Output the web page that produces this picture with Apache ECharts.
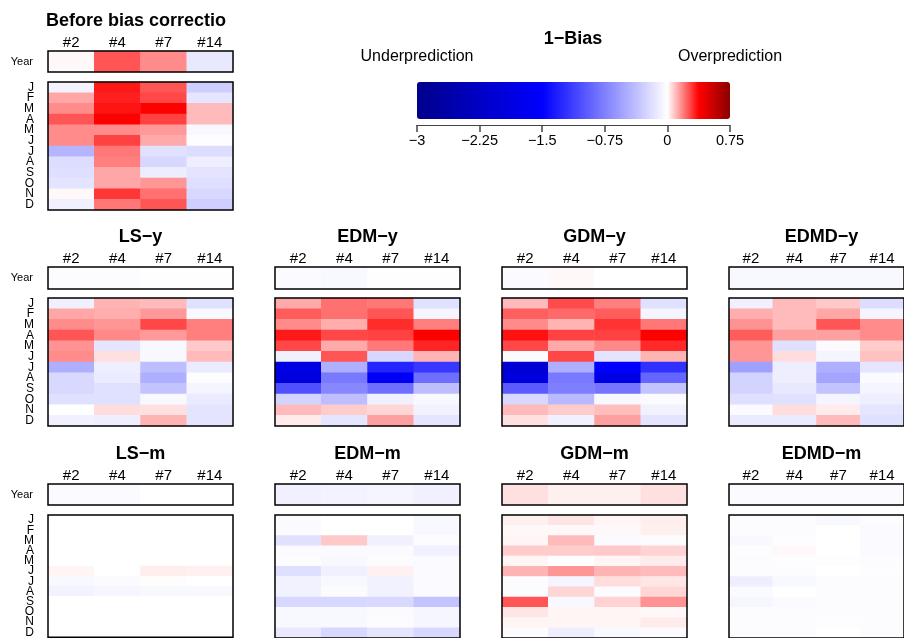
<!DOCTYPE html>
<html><head><meta charset="utf-8">
<script src="https://cdn.jsdelivr.net/npm/echarts@6/dist/echarts.min.js"></script>
<style>html,body{margin:0;padding:0;background:#fff}#c{width:904px;height:638px}</style>
</head><body><div id="c"></div>
<script>
// ---- tick labels / categories ----
const leadLabels = ['#2', '#4', '#7', '#14'];
const monthLabels = ['J', 'F', 'M', 'A', 'M', 'J', 'J', 'A', 'S', 'O', 'N', 'D'];
const yearLabel = ['Year'];
const colorMin = -3, colorMax = 0.75, colorStep = 0.75;

// ---- data: 1-Bias (rows = months J..D, cols = #2,#4,#7,#14) ----
const before_year = [0.01, 0.25, 0.17, -0.135];
const before_month = [
  [-0.07, 0.34, 0.25, -0.29],
  [0.13, 0.33, 0.27, -0.15],
  [0.17, 0.345, 0.38, 0.10],
  [0.25, 0.375, 0.28, 0.10],
  [0.17, 0.17, 0.15, -0.04],
  [0.17, 0.28, 0.125, -0.01],
  [-0.44, 0.20, -0.18, -0.20],
  [-0.20, 0.19, -0.235, -0.10],
  [-0.19, 0.13, -0.105, -0.16],
  [-0.16, 0.13, 0.155, -0.19],
  [0.01, 0.295, 0.21, -0.235],
  [-0.09, 0.20, 0.25, -0.29]
];
const lsy_year = [-0.02, -0.015, -0.005, -0.005];
const lsy_month = [
  [-0.09, 0.11, 0.10, -0.18],
  [0.13, 0.12, 0.15, -0.04],
  [0.17, 0.155, 0.27, 0.19],
  [0.25, 0.175, 0.15, 0.19],
  [0.16, -0.15, -0.04, 0.08],
  [0.17, 0.045, -0.04, 0.10],
  [-0.47, -0.10, -0.38, -0.12],
  [-0.22, -0.12, -0.47, -0.01],
  [-0.22, -0.18, -0.35, -0.06],
  [-0.18, -0.18, -0.04, -0.12],
  [0.0, 0.05, 0.045, -0.16],
  [-0.09, -0.10, 0.11, -0.16]
];
const edmy_year = [-0.03, -0.04, -0.005, -0.005];
const edmy_month = [
  [0.125, 0.21, 0.20, -0.18],
  [0.24, 0.21, 0.25, -0.06],
  [0.17, 0.12, 0.31, 0.19],
  [0.34, 0.27, 0.28, 0.375],
  [0.27, 0.125, 0.20, 0.32],
  [-0.09, 0.25, -0.235, 0.11],
  [-1.85, -0.47, -1.29, -1.18],
  [-1.91, -0.79, -1.62, -0.85],
  [-1.03, -0.71, -0.85, -0.38],
  [-0.26, -0.38, -0.09, -0.04],
  [0.10, 0.075, 0.06, -0.075],
  [0.03, -0.15, 0.14, -0.15]
];
const gdmy_year = [-0.03, 0.01, 0, 0];
const gdmy_month = [
  [0.10, 0.265, 0.19, -0.18],
  [0.235, 0.22, 0.24, -0.06],
  [0.17, 0.11, 0.30, 0.20],
  [0.35, 0.28, 0.28, 0.375],
  [0.27, 0.125, 0.175, 0.315],
  [-0.03, 0.27, -0.16, 0.11],
  [-2.03, -0.47, -1.5, -1.21],
  [-1.91, -0.79, -1.85, -0.91],
  [-0.97, -0.76, -0.82, -0.35],
  [-0.235, -0.41, -0.04, -0.03],
  [0.10, 0.075, 0.095, -0.075],
  [0.045, -0.09, 0.14, -0.16]
];
const edmdy_year = [-0.04, -0.04, -0.04, -0.04];
const edmdy_month = [
  [-0.09, 0.10, 0.08, -0.20],
  [0.12, 0.10, 0.13, -0.06],
  [0.16, 0.10, 0.25, 0.17],
  [0.24, 0.14, 0.14, 0.17],
  [0.155, -0.18, -0.03, 0.075],
  [0.155, 0.05, -0.06, 0.09],
  [-0.56, -0.10, -0.47, -0.15],
  [-0.26, -0.10, -0.53, -0.03],
  [-0.26, -0.135, -0.35, -0.06],
  [-0.19, -0.18, -0.06, -0.10],
  [-0.03, 0.05, 0.03, -0.15],
  [-0.12, -0.12, 0.10, -0.18]
];
const lsm_year = [-0.03, -0.03, 0, 0];
const lsm_month = [
  [0, 0, 0, 0],
  [0, 0, 0, 0],
  [0, 0, 0, 0],
  [0, 0, 0, 0],
  [0, 0, 0, 0],
  [0.015, 0, 0.025, 0.02],
  [-0.04, -0.03, 0.005, 0],
  [-0.07, -0.05, -0.04, -0.04],
  [0, 0, 0, 0],
  [0, 0, 0, 0],
  [0, 0, 0, 0],
  [0, 0, 0, 0]
];
const edmm_year = [-0.09, -0.07, -0.06, -0.09];
const edmm_month = [
  [-0.03, 0, 0, -0.04],
  [-0.03, 0, 0, -0.04],
  [-0.18, 0.08, -0.09, -0.02],
  [-0.03, -0.03, -0.03, -0.09],
  [-0.02, -0.04, -0.02, -0.03],
  [-0.19, -0.09, 0.02, -0.03],
  [-0.075, -0.04, -0.075, -0.03],
  [-0.075, -0.02, -0.075, -0.03],
  [-0.235, -0.235, -0.22, -0.35],
  [-0.04, -0.04, -0.03, -0.05],
  [-0.04, -0.04, -0.02, -0.05],
  [-0.135, -0.235, -0.15, -0.235]
];
const gdmm_year = [0.045, 0.022, 0.022, 0.045];
const gdmm_month = [
  [0.022, 0.04, 0.015, 0.025],
  [0.01, 0.01, 0.01, 0.022],
  [0.015, 0.10, -0.03, -0.02],
  [0.075, 0.075, 0.08, 0.065],
  [0.015, 0, 0.015, 0.03],
  [0.11, 0.155, 0.11, 0.10],
  [-0.02, -0.06, 0.05, 0.037],
  [-0.02, 0.06, -0.02, 0.06],
  [0.25, -0.04, 0.065, 0.16],
  [0.037, 0.015, 0.015, 0.01],
  [0.015, 0.015, 0.015, 0.03],
  [-0.02, -0.10, -0.04, -0.02]
];
const edmdm_year = [-0.03, -0.03, -0.03, -0.03];
const edmdm_month = [
  [-0.02, -0.02, -0.04, -0.02],
  [-0.02, -0.02, 0, -0.03],
  [-0.04, -0.01, 0, -0.03],
  [-0.01, 0.01, 0, -0.03],
  [-0.02, -0.01, -0.01, -0.02],
  [-0.02, -0.02, 0, -0.01],
  [-0.10, -0.04, -0.02, -0.02],
  [-0.03, 0, -0.02, -0.02],
  [-0.05, -0.03, -0.02, -0.02],
  [-0.02, -0.02, -0.02, -0.02],
  [-0.02, -0.02, -0.01, -0.02],
  [-0.02, -0.02, 0, -0.02]
];

// ---- layout ----
const FONT = 'Liberation Sans';
const panelW = 185;
const panels = [
  { title: 'Before bias correction', year: before_year, month: before_month, left: 48, yt: 51, yh: 21, mt: 82, mh: 128, labels: true, titleLeft: true },
  { title: 'LS\u2212y', year: lsy_year, month: lsy_month, left: 48, yt: 267, yh: 22, mt: 298, mh: 128, labels: true },
  { title: 'EDM\u2212y', year: edmy_year, month: edmy_month, left: 275, yt: 267, yh: 22, mt: 298, mh: 128, labels: false },
  { title: 'GDM\u2212y', year: gdmy_year, month: gdmy_month, left: 502, yt: 267, yh: 22, mt: 298, mh: 128, labels: false },
  { title: 'EDMD\u2212y', year: edmdy_year, month: edmdy_month, left: 729, yt: 267, yh: 22, mt: 298, mh: 128, labels: false },
  { title: 'LS\u2212m', year: lsm_year, month: lsm_month, left: 48, yt: 484, yh: 21, mt: 515, mh: 128, labels: true },
  { title: 'EDM\u2212m', year: edmm_year, month: edmm_month, left: 275, yt: 484, yh: 21, mt: 515, mh: 128, labels: false },
  { title: 'GDM\u2212m', year: gdmm_year, month: gdmm_month, left: 502, yt: 484, yh: 21, mt: 515, mh: 128, labels: false },
  { title: 'EDMD\u2212m', year: edmdm_year, month: edmdm_month, left: 729, yt: 484, yh: 21, mt: 515, mh: 128, labels: false }
];

const grids = [], xAxes = [], yAxes = [], series = [], graphics = [], heatIdx = [];
const off = { show: false };
function gridOf(left, top, h) {
  return { left: left, top: top, width: panelW, height: h, show: true, borderColor: '#000', borderWidth: 1.5, backgroundColor: 'transparent', z: 10, containLabel: false };
}
panels.forEach(p => {
  // year grid
  const gy = grids.length;
  grids.push(gridOf(p.left, p.yt, p.yh));
  xAxes.push({ type: 'category', gridIndex: gy, data: leadLabels, position: 'top', axisLine: off, axisTick: off, splitLine: off,
    axisLabel: { interval: 0, fontSize: 15, margin: 1, color: '#000', fontFamily: FONT } });
  yAxes.push({ type: 'category', gridIndex: gy, data: yearLabel, axisLine: off, axisTick: off, splitLine: off,
    axisLabel: { show: p.labels, fontSize: 11, margin: 15, color: '#000', fontFamily: FONT } });
  heatIdx.push(series.length);
  series.push({ type: 'heatmap', xAxisIndex: gy, yAxisIndex: gy, progressive: 0, silent: true,
    itemStyle: { borderWidth: 0 }, emphasis: { disabled: true },
    data: p.year.map((v, i) => [i, 0, v]) });
  // month grid
  const gm = grids.length;
  grids.push(gridOf(p.left, p.mt, p.mh));
  xAxes.push({ type: 'category', gridIndex: gm, data: leadLabels, show: false });
  yAxes.push({ type: 'category', gridIndex: gm, data: monthLabels.map((m, i) => String(i)), inverse: true,
    axisLine: off, axisTick: off, splitLine: off,
    axisLabel: { show: p.labels, interval: 0, fontSize: 12, lineHeight: 11, margin: 14, color: '#000',
      fontFamily: 'Liberation Sans Narrow, Liberation Sans',
      formatter: v => monthLabels[+v] } });
  const md = [];
  p.month.forEach((row, r) => row.forEach((v, c) => md.push([c, r, v])));
  heatIdx.push(series.length);
  series.push({ type: 'heatmap', xAxisIndex: gm, yAxisIndex: gm, progressive: 0, silent: true,
    itemStyle: { borderWidth: 0 }, emphasis: { disabled: true }, data: md });
  // title
  const tx = p.titleLeft ? p.left - 2 : p.left + panelW / 2;
  const st = { text: p.title, font: 'bold 18px ' + FONT, fill: '#000',
    align: p.titleLeft ? 'left' : 'center', textAlign: p.titleLeft ? 'left' : 'center',
    verticalAlign: 'middle', textVerticalAlign: 'middle' };
  if (p.titleLeft) { st.width = 187; st.overflow = 'truncate'; st.ellipsis = ''; }
  graphics.push({ type: 'text', x: tx, y: p.yt - 30, style: st, z: 20 });
});

// colour-bar axis
const cbLeft = 417, cbWidth = 313;
const gc = grids.length;
grids.push({ left: cbLeft, top: 115, width: cbWidth, height: 10, show: false });
xAxes.push({ type: 'value', gridIndex: gc, min: colorMin, max: colorMax, interval: colorStep,
  axisLine: { show: true, lineStyle: { color: '#444', width: 1 } },
  axisTick: { show: true, length: 7, lineStyle: { color: '#444', width: 1.5 } },
  splitLine: off, showMinLabel: true, showMaxLabel: true,
  axisLabel: { fontSize: 14.5, margin: 8, color: '#000', fontFamily: FONT,
    formatter: v => String(v).replace('-', '\u2212') } });
yAxes.push({ type: 'value', gridIndex: gc, show: false, min: 0, max: 1 });
series.push({ type: 'scatter', xAxisIndex: gc, yAxisIndex: gc, data: [], silent: true });

graphics.push({ type: 'text', x: 573, y: 39, style: { text: '1\u2212Bias', font: 'bold 18px ' + FONT, fill: '#000', align: 'center', textAlign: 'center', verticalAlign: 'middle', textVerticalAlign: 'middle' } });
graphics.push({ type: 'text', x: 417, y: 57, style: { text: 'Underprediction', font: '16px ' + FONT, fill: '#000', align: 'center', textAlign: 'center', verticalAlign: 'middle', textVerticalAlign: 'middle' } });
graphics.push({ type: 'text', x: 730, y: 57, style: { text: 'Overprediction', font: '16px ' + FONT, fill: '#000', align: 'center', textAlign: 'center', verticalAlign: 'middle', textVerticalAlign: 'middle' } });

const option = {
  animation: false,
  backgroundColor: '#fff',
  grid: grids, xAxis: xAxes, yAxis: yAxes, series: series,
  graphic: { elements: graphics },
  visualMap: {
    type: 'continuous', min: colorMin, max: colorMax, orient: 'horizontal',
    left: cbLeft, top: 82, itemWidth: 37, itemHeight: cbWidth, padding: 0,
    calculable: false, hoverLink: false, text: null, seriesIndex: heatIdx,
    inRange: { color: ['#00008B', '#0000A8', '#0000C5', '#0000E2', '#0000FF', '#4040FF', '#8080FF', '#BFBFFF', '#FFFFFF', '#FF0000', '#8B0000'] }
  }
};
const chart = echarts.init(document.getElementById('c'), null, { renderer: 'canvas' });
chart.setOption(option);
</script></body></html>
